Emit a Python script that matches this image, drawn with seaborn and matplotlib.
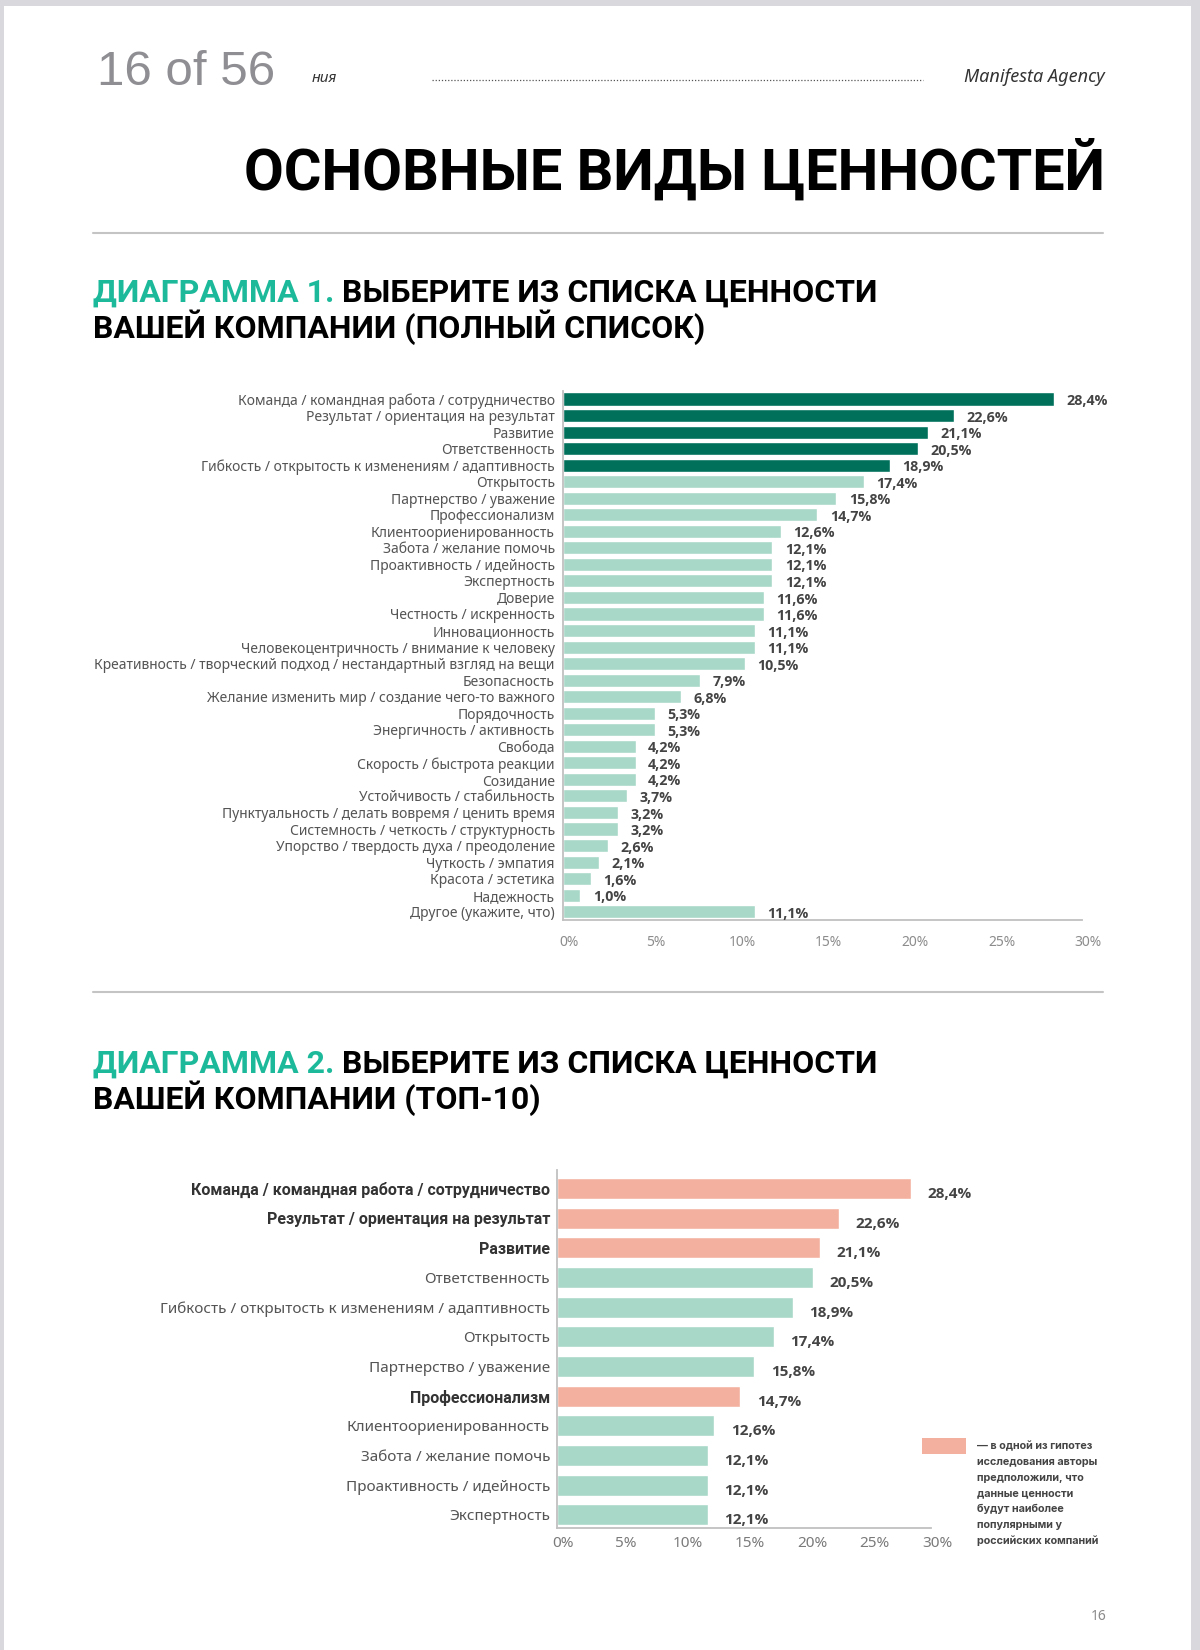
import matplotlib
matplotlib.use('Agg')
import matplotlib.pyplot as plt
import matplotlib.transforms as mtransforms
import seaborn as sns
import pandas as pd
from matplotlib.patches import Rectangle

# chart 1 data - full list
labels1 = ['Команда / командная работа / сотрудничество',
           'Результат / ориентация на результат',
           'Развитие',
           'Ответственность',
           'Гибкость / открытость к изменениям / адаптивность',
           'Открытость',
           'Партнерство / уважение',
           'Профессионализм',
           'Клиентоориенированность',
           'Забота / желание помочь',
           'Проактивность / идейность',
           'Экспертность',
           'Доверие',
           'Честность / искренность',
           'Инновационность',
           'Человекоцентричность / внимание к человеку',
           'Креативность / творческий подход / нестандартный взгляд на вещи',
           'Безопасность',
           'Желание изменить мир / создание чего-то важного',
           'Порядочность',
           'Энергичность / активность',
           'Свобода',
           'Скорость / быстрота реакции',
           'Созидание',
           'Устойчивость / стабильность',
           'Пунктуальность / делать вовремя / ценить время',
           'Системность / четкость / структурность',
           'Упорство / твердость духа / преодоление',
           'Чуткость / эмпатия',
           'Красота / эстетика',
           'Надежность',
           'Другое (укажите, что)']
values1 = [28.4, 22.6, 21.1, 20.5, 18.9, 17.4, 15.8, 14.7, 12.6, 12.1, 12.1, 12.1,
           11.6, 11.6, 11.1, 11.1, 10.5, 7.9, 6.8, 5.3, 5.3, 4.2, 4.2, 4.2, 3.7,
           3.2, 3.2, 2.6, 2.1, 1.6, 1.0, 11.1]

# chart 2 data - top 10
labels2 = labels1[:12]
values2 = values1[:12]
hypothesis2 = [True, True, True, False, False, False, False, True, False, False, False, False]

xticks = [0, 5, 10, 15, 20, 25, 30]
xticklabels = ['0%', '5%', '10%', '15%', '20%', '25%', '30%']

legend_lines = ['— в одной из гипотез', 'исследования авторы', 'предположили, что',
                'данные ценности', 'будут наиболее', 'популярными у', 'российских компаний']

DARK = '#00705b'
MINT = '#a7d8c8'
SALMON = '#f3b09f'
TEAL = '#1db99b'

W, H = 1200, 1650

sns.set_theme(style='white')
plt.rcParams['font.family'] = ['Noto Sans', 'DejaVu Sans']
HEAD = ['Roboto', 'DejaVu Sans']
BOLD = ['Open Sans', 'DejaVu Sans']
LEG = ['Inter', 'DejaVu Sans']

fig = plt.figure(figsize=(12, 16.5), dpi=100)
fig.patch.set_facecolor('#d9d9dd')


def box(x0, y0, x1, y1):
    return [x0 / W, 1 - y1 / H, (x1 - x0) / W, (y1 - y0) / H]


def pct(v):
    return f'{v:.1f}%'.replace('.', ',')


# page background / text layer in pixel coords
bg = fig.add_axes([0, 0, 1, 1], zorder=0)
bg.set_xlim(0, W)
bg.set_ylim(H, 0)
bg.axis('off')
bg.add_patch(Rectangle((4, 6), 1187, H, color='white', lw=0))

bg.text(97, 85, '16 of 56', fontsize=35.5, color='#8e8e93', family=['Liberation Sans', 'DejaVu Sans'], va='baseline')
bg.text(312, 82, 'ния', fontsize=11, style='italic', color='#333333', va='baseline')
bg.plot([432, 923], [80, 80], ls=(0, (1, 1.5)), lw=0.9, color='#555555')
bg.text(1105, 82, 'Manifesta Agency', fontsize=13, style='italic', color='#333333', ha='right', va='baseline')
bg.text(1105, 190, 'ОСНОВНЫЕ ВИДЫ ЦЕННОСТЕЙ', fontsize=41.5, weight='bold', family=HEAD,
        color='black', ha='right', va='baseline')
bg.plot([93, 1103], [233, 233], lw=1.5, color='#c4c4c4')
bg.plot([93, 1103], [992, 992], lw=1.5, color='#c4c4c4')


def heading(y, head, rest1, rest2):
    t = bg.text(93, y, head, fontsize=23, weight='bold', family=HEAD, color=TEAL, va='baseline')
    bg.annotate(' ' + rest1, xy=(1, 0), xycoords=t, va='bottom', fontsize=23, weight='bold',
                family=HEAD, color='black')
    bg.text(93, y + 36, rest2, fontsize=23, weight='bold', family=HEAD, color='black', va='baseline')


heading(302, 'ДИАГРАММА 1.', 'ВЫБЕРИТЕ ИЗ СПИСКА ЦЕННОСТИ', 'ВАШЕЙ КОМПАНИИ (ПОЛНЫЙ СПИСОК)')
heading(1073, 'ДИАГРАММА 2.', 'ВЫБЕРИТЕ ИЗ СПИСКА ЦЕННОСТИ', 'ВАШЕЙ КОМПАНИИ (ТОП-10)')

bg.text(1099, 1617, '16', fontsize=10, color='#8a8a8a', ha='center', va='center')

# legend for chart 2
bg.add_patch(Rectangle((922, 1438), 44, 16, color=SALMON, lw=0))
for k, line in enumerate(legend_lines):
    bg.text(977, 1446 + k * 15.8, line, fontsize=7.8, weight='bold', family=LEG,
            color='#444444', va='center')

# chart 1
top5 = set(sorted(range(len(values1)), key=lambda i: -values1[i])[:5])
colors1 = [DARK if i in top5 else MINT for i in range(len(values1))]
df1 = pd.DataFrame({'label': labels1, 'value': values1})
ax1 = fig.add_axes(box(563, 390.7, 1082, 920), zorder=1)
ax1.set_facecolor('none')
sns.barplot(data=df1, x='value', y='label', hue='label', palette=colors1, legend=False,
            saturation=1, width=0.79, orient='h', ax=ax1)
ax1.set_xlim(0, 30)
ax1.set_ylim(len(values1) - 0.5, -0.5)
ax1.set_xlabel('')
ax1.set_ylabel('')
ax1.set_xticks(xticks)
ax1.set_xticklabels(xticklabels)
ax1.tick_params(axis='x', length=0, pad=11, labelsize=10, labelcolor='#8c8c8c')
ax1.tick_params(axis='y', length=0, pad=6, labelsize=10, labelcolor='#555555')
for i, v in enumerate(values1):
    ax1.annotate(pct(v), xy=(v, i), xytext=(9, -1.5), textcoords='offset points',
                 va='center', fontsize=10.3, weight='bold', family=BOLD, color='#444444')

# chart 2
colors2 = [SALMON if h else MINT for h in hypothesis2]
df2 = pd.DataFrame({'label': labels2, 'value': values2})
ax2 = fig.add_axes(box(557, 1170, 931, 1528), zorder=1)
ax2.set_facecolor('none')
sns.barplot(data=df2, x='value', y='label', hue='label', palette=colors2, legend=False,
            saturation=1, width=0.71, orient='h', ax=ax2)
ax2.set_xlim(0, 30)
ax2.set_ylim(11.44, -0.624)
ax2.set_xlabel('')
ax2.set_ylabel('')
ax2.set_xticks(xticks)
ax2.set_xticklabels(xticklabels)
ax2.tick_params(axis='x', length=0, pad=6, labelsize=11, labelcolor='#7a7a7a')
ax2.tick_params(axis='y', length=0, pad=5, labelsize=11, labelcolor='#555555')
for lab, h in zip(ax2.get_yticklabels(), hypothesis2):
    if h:
        lab.set_fontweight('bold')
        lab.set_family(HEAD)
        lab.set_fontsize(11.5)
        lab.set_color('#333333')
for i, v in enumerate(values2):
    ax2.annotate(pct(v), xy=(v, i), xytext=(12, -4), textcoords='offset points',
                 va='center', fontsize=11, weight='bold', family=BOLD, color='#444444')

# tick labels sit a little right of the tick positions in the original
shift = mtransforms.ScaledTranslation(6 / 100, 0, fig.dpi_scale_trans)
for ax in (ax1, ax2):
    for lab in ax.get_xticklabels():
        lab.set_transform(lab.get_transform() + shift)
    for s in ('top', 'right'):
        ax.spines[s].set_visible(False)
    for s in ('left', 'bottom'):
        ax.spines[s].set_color('#c0c0c0')
        ax.spines[s].set_linewidth(1.3)

fig.savefig('out.png', dpi=100)
